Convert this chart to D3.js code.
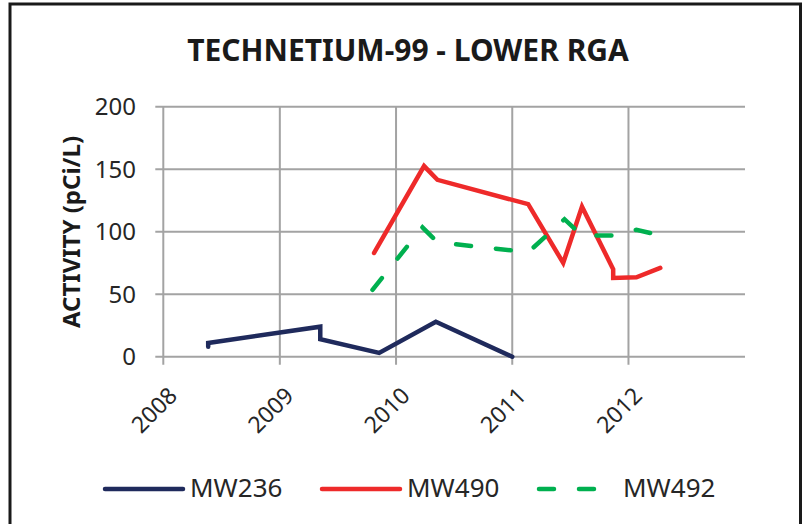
<!DOCTYPE html>
<html>
<head>
<meta charset="utf-8">
<script src="https://cdn.jsdelivr.net/npm/d3@7"></script>
<style>
  body { margin: 0; background: #fff; }
  text { font-family: "Noto Sans", "Open Sans", sans-serif; fill: #262626; }
</style>
</head>
<body>
<div id="chart"></div>
<script>
// Tc-99 activity in lower RGA wells

// sample dates per well
let mw236Dates = ["2008-05-21", "2008-05-21", "2009-05-08", "2009-05-08", "2009-11-09", "2010-05-06", "2011-01-01"]
let mw236Values = [8, 11, 24, 14, 3, 28, 0]

let mw490Dates = ["2009-10-24", "2010-03-30", "2010-05-11", "2011-02-20", "2011-06-10", "2011-08-08", "2011-11-14", "2011-11-14", "2012-01-26", "2012-04-10"]
let mw490Values = [83, 152.5, 141.5, 122, 75, 120, 70, 63, 63.5, 71]

let mw492Dates = ["2009-10-19", "2010-03-25", "2010-05-11", "2011-01-01", "2011-02-20", "2011-06-14", "2011-08-08", "2011-11-14", "2012-01-26", "2012-03-09"]
let mw492Values = [53.5, 103.5, 91.5, 85, 83.5, 110, 97, 97, 101.5, 99]

let seriesNames = ["MW236", "MW490", "MW492"]
let yearTicks = ["2008", "2009", "2010", "2011", "2012"]
let yTicks = [0, 50, 100, 150, 200]

let width = 803
let height = 524
let plotLeft = 163.3, plotRight = 745, plotTop = 106.7, plotBottom = 356.7

let parse = d3.timeParse("%Y-%m-%d")

// zip dates and values into point lists
function pts(dates, values) {
    return dates.map(function (d, i) { return { date: parse(d), value: values[i] } })
}

let series = [
    { name: seriesNames[0], data: pts(mw236Dates, mw236Values), color: "#1f2a5c", dash: null },
    { name: seriesNames[1], data: pts(mw490Dates, mw490Values), color: "#ee2a2a", dash: null },
    { name: seriesNames[2], data: pts(mw492Dates, mw492Values), color: "#00b04f", dash: "15,25" }
]

let svg = d3.select("#chart")
    .append("svg")
    .attr("width", width)
    .attr("height", height)

// chart border
svg.append("rect")
    .attr("x", 10)
    .attr("y", 4)
    .attr("width", 790.5)
    .attr("height", 540)
    .attr("fill", "white")
    .attr("stroke", "#1a1a1a")
    .attr("stroke-width", 3)

let xScale = d3.scaleTime()
    .domain([parse("2008-01-01"), parse("2013-01-01")])
    .range([plotLeft, plotRight])

let yScale = d3.scaleLinear()
    .domain([0, 200])
    .range([plotBottom, plotTop])

let gridColor = "#a3a3a3"

// horizontal gridlines (the 0 line doubles as the x axis)
svg.append("g")
    .selectAll("line")
    .data(yTicks).enter()
    .append("line")
    .attr("x1", plotLeft - 8)
    .attr("x2", plotRight)
    .attr("y1", function (d) { return yScale(d) })
    .attr("y2", function (d) { return yScale(d) })
    .attr("stroke", gridColor)
    .attr("stroke-width", 2)

// vertical gridlines at each year, with tick marks below the axis
svg.append("g")
    .selectAll("line")
    .data(yearTicks).enter()
    .append("line")
    .attr("x1", function (d) { return xScale(parse(d + "-01-01")) })
    .attr("x2", function (d) { return xScale(parse(d + "-01-01")) })
    .attr("y1", plotTop)
    .attr("y2", plotBottom + 8)
    .attr("stroke", gridColor)
    .attr("stroke-width", 2)

// y tick labels
svg.append("g")
    .selectAll("text")
    .data(yTicks).enter()
    .append("text")
    .attr("x", 136)
    .attr("y", function (d) { return yScale(d) })
    .attr("dy", "0.36em")
    .attr("text-anchor", "end")
    .style("font-size", "24px")
    .text(function (d) { return d })

// year labels, turned 45 degrees
svg.append("g")
    .selectAll("text")
    .data(yearTicks).enter()
    .append("text")
    .attr("transform", function (d) {
        return "translate(" + (xScale(parse(d + "-01-01")) + 3) + ",385) rotate(-45)"
    })
    .attr("dy", "0.75em")
    .attr("text-anchor", "end")
    .style("font-size", "23px")
    .text(function (d) { return d })

// lines
let line = d3.line()
    .x(function (d) { return xScale(d.date) })
    .y(function (d) { return yScale(d.value) })

svg.append("g")
    .selectAll("path")
    .data(series).enter()
    .append("path")
    .attr("d", function (s) { return line(s.data) })
    .attr("fill", "none")
    .attr("stroke", function (s) { return s.color })
    .attr("stroke-width", 4.5)
    .attr("stroke-linejoin", "miter")
    .attr("stroke-linecap", "round")
    .attr("stroke-dasharray", function (s) { return s.dash })

// title
svg.append("text")
    .attr("x", 408)
    .attr("y", 61)
    .attr("text-anchor", "middle")
    .style("font-size", "30px")
    .style("font-weight", "bold")
    .style("fill", "#1a1a1a")
    .text("TECHNETIUM-99 - LOWER RGA")

// y axis title
svg.append("text")
    .attr("transform", "translate(80,232) rotate(-90)")
    .attr("text-anchor", "middle")
    .style("font-size", "24px")
    .style("font-weight", "bold")
    .style("fill", "#1a1a1a")
    .text("ACTIVITY (pCi/L)")

// legend
let legendX = [105, 322, 539]
let legend = svg.append("g")
    .selectAll("g")
    .data(series).enter()
    .append("g")
    .attr("transform", function (s, i) { return "translate(" + legendX[i] + ",489)" })

legend.append("line")
    .attr("x1", 0)
    .attr("x2", function (s) { return s.dash ? 62 : 78 })
    .attr("stroke", function (s) { return s.color })
    .attr("stroke-width", 4.5)
    .attr("stroke-linecap", "round")
    .attr("stroke-dasharray", function (s) { return s.dash })

legend.append("text")
    .attr("x", function (s) { return s.dash ? 84 : 85 })
    .attr("y", 8)
    .style("font-size", "26px")
    .text(function (s) { return s.name })
</script>
</body>
</html>
